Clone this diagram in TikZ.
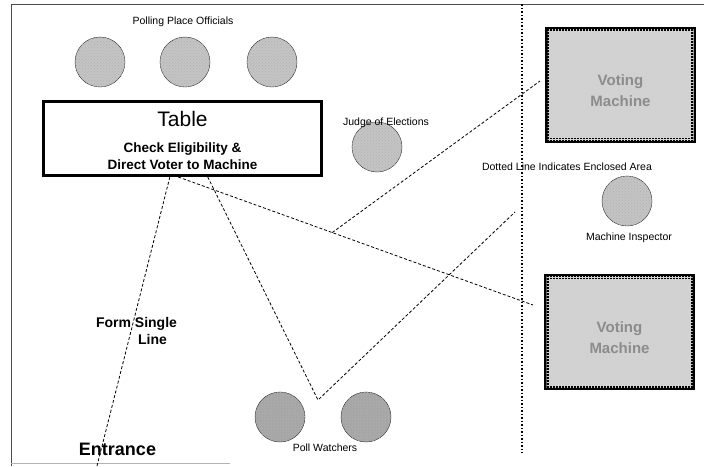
\documentclass[tikz,border=0pt]{standalone}
\usepackage{fontspec}
\setmainfont{Liberation Sans}
\usepackage{tikz}
\definecolor{officialgray}{HTML}{C4C4C4}
\definecolor{watchergray}{HTML}{A6A6A6}
\definecolor{machinegray}{HTML}{D2D2D2}
\definecolor{machineink}{HTML}{8C8C8C}
\usetikzlibrary{calc,patterns}
\tikzset{person/.style={
    circle,
    minimum size=50pt,
    draw=black!85,
    thin,
    fill=officialgray,
    postaction={pattern=crosshatch dots, pattern color=black!30}},
  watcher/.style={person,
    fill=watchergray},
  desk/.style={
    draw=black,
    line width=3pt,
    minimum width=278pt,
    minimum height=74pt},
  machine/.style={
    draw=black,
    line width=5pt,
    fill=machinegray,
    postaction={pattern=grid, pattern color=black!18},
    minimum width=146pt,
    minimum height=111pt},
  machinetext/.style={
    font=\fontsize{15}{21}\selectfont\bfseries,
    text=machineink,
    align=center},
  tag/.style={
    font=\fontsize{10.5}{12.5}\selectfont,
    anchor=base},
  walk/.style={
    densely dashed,
    line width=0.8pt}}

\begin{document}
\begin{tikzpicture}[x=1pt, y=-1pt]
  \useasboundingbox (0,0) rectangle (704,466);
\coordinate (OF1) at (100,62);
\coordinate (OF2) at (185,62);
\coordinate (OF3) at (272,62);
\coordinate (JE) at (377,147);
\coordinate (MI) at (627,201);
\coordinate (PW1) at (280,417);
\coordinate (PW2) at (366,417);
\coordinate (T) at (182.5,138.5);
\coordinate (VM1) at (620.5,85);
\coordinate (VM2) at (619.5,331.5);

% room outline and enclosed area
\draw[line width=1pt, black!70] (704,4) -- (11,4) -- (11,466);
\draw[line width=0.8pt, black!30] (11,463) -- (230,463);
\draw[line width=1.8pt, dash pattern=on 1.8pt off 1.7pt] (522,4) -- (522,453);

\node[person] (of1) at (OF1) {};
\node[person] (of2) at (OF2) {};
\node[person] (of3) at (OF3) {};
\node[tag] (officials) at (183,24.5) {Polling Place Officials};

\node[desk] (table) at (T) {};
\node[font=\fontsize{21}{24}\selectfont,
  anchor=base] (tabletitle) at (182.5,126) {Table};
\node[font=\fontsize{13.5}{17}\selectfont\bfseries,
  align=center,
  anchor=base] (tabletask) at (182.5,169) {Check Eligibility \&\\Direct Voter to Machine};

\node[person] (judge) at (JE) {};
\node[tag] (judgetag) at (386,125.5) {Judge of Elections};

\node[machine] (vm1) at (VM1) {};
\node[machinetext] (vm1text) at ($(vm1)+(0,6)$) {Voting\\Machine};
\node[machine] (vm2) at (VM2) {};
\node[machinetext] (vm2text) at ($(vm2)+(0,6)$) {Voting\\Machine};

\node[tag] (enclosed) at (567,170) {Dotted Line Indicates Enclosed Area};
\node[person] (inspector) at (MI) {};
\node[tag] (inspectortag) at (629,240) {Machine Inspector};

\node[watcher] (pw1) at (PW1) {};
\node[watcher] (pw2) at (PW2) {};
\node[tag] (watchers) at (325,451) {Poll Watchers};

\node[font=\fontsize{18}{21}\selectfont\bfseries,
  anchor=base] (entrance) at (117.5,455) {Entrance};
\node[font=\fontsize{14}{17}\selectfont\bfseries,
  anchor=base] (form) at (136.5,327) {Form Single};
\node[font=\fontsize{14}{17}\selectfont\bfseries,
  anchor=base] (formline) at (152.5,344) {Line};

% voter paths
\coordinate (t1) at ($(table.south west)!0.455!(table.south east)$);
\coordinate (t2) at ($(table.south west)!0.485!(table.south east)$);
\coordinate (t3) at ($(table.south west)!0.59!(table.south east)$);
\coordinate (entry) at (97,466);
\coordinate (m2in) at (533,305);
\coordinate (fork) at ($(t2)!0.434!(m2in)$);
\coordinate (m1in) at (540,81);
\coordinate (turn) at (318,400);
\coordinate (back) at (515,212);

\draw[walk] (entry) -- (t1);
\draw[walk] (t2) -- (m2in);
\draw[walk] (fork) -- (m1in);
\draw[walk] (t3) -- (turn) -- (back);

\end{tikzpicture}
\end{document}
